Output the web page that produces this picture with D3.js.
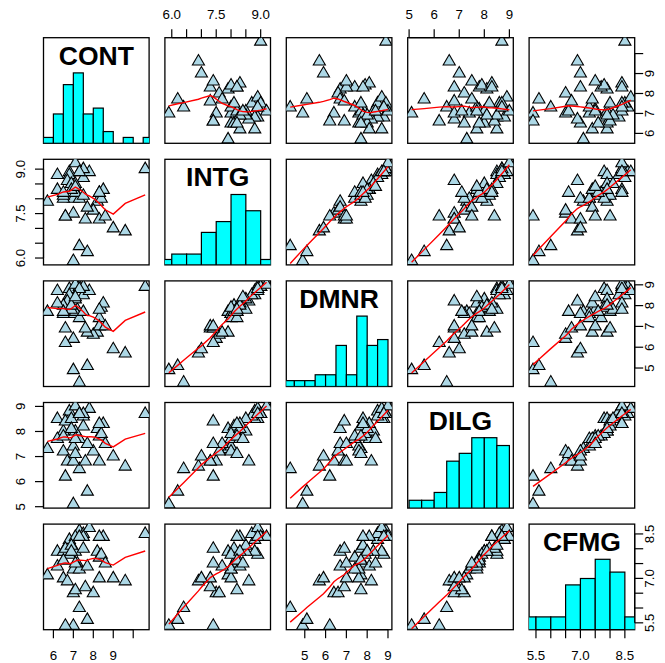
<!DOCTYPE html>
<html>
<head>
<meta charset="utf-8">
<script src="https://cdn.jsdelivr.net/npm/d3@7"></script>
<style>
  body { margin: 0; background: #fff; }
  svg { display: block; }
  text { font-family: "Liberation Sans", Arial, Helvetica, sans-serif; fill: #000; }
</style>
</head>
<body>
<script>
// judge ratings, first five columns
const varNames = ["CONT", "INTG", "DMNR", "DILG", "CFMG"];
const CONT = [5.7, 6.8, 7.2, 6.8, 7.3, 6.2, 10.6, 7.0, 7.3, 8.2, 7.0, 6.5, 6.7, 7.0, 6.5, 7.3, 8.0, 7.7, 8.3, 9.6, 7.1, 7.6,
              6.6, 6.2, 7.5, 7.8, 7.1, 7.5, 7.5, 7.1, 6.6, 8.4, 6.9, 7.3, 7.7, 8.5, 6.9, 6.5, 8.3, 8.3, 9.0, 7.1, 8.6];
const INTG = [7.9, 8.9, 8.1, 8.8, 6.4, 8.8, 9.0, 5.9, 8.9, 7.9, 8.0, 8.0, 8.6, 7.5, 8.1, 8.0, 7.6, 7.7, 8.2, 6.9, 8.2, 7.3,
              7.4, 8.3, 8.7, 8.9, 8.5, 9.0, 8.1, 9.2, 7.4, 8.0, 8.5, 8.9, 6.2, 8.3, 8.3, 8.2, 7.3, 8.2, 7.0, 8.4, 7.4];
const DMNR = [7.7, 8.8, 7.8, 8.5, 4.3, 8.7, 8.9, 4.9, 8.9, 6.7, 7.6, 7.6, 8.2, 6.4, 8.0, 7.4, 6.6, 6.7, 7.4, 5.7, 7.7, 6.9,
              6.2, 8.1, 8.5, 8.7, 8.3, 8.9, 7.7, 9.0, 6.9, 7.9, 7.8, 8.8, 5.1, 8.1, 8.0, 7.7, 7.0, 7.8, 5.9, 8.4, 7.0];
const DILG = [7.3, 8.5, 7.8, 8.8, 6.5, 8.5, 8.7, 5.1, 8.7, 8.1, 7.4, 7.2, 6.8, 6.8, 8.0, 7.7, 7.2, 7.5, 7.8, 6.6, 7.1, 6.8,
              6.2, 7.7, 8.6, 8.9, 8.0, 8.7, 8.2, 9.0, 8.4, 7.9, 8.5, 8.7, 5.6, 8.3, 8.1, 7.8, 6.8, 8.3, 7.0, 7.7, 7.5];
const CFMG = [7.1, 7.8, 7.5, 8.3, 6.0, 7.9, 8.5, 5.4, 8.6, 7.9, 7.3, 7.0, 6.9, 6.5, 7.9, 7.3, 6.5, 7.4, 7.7, 6.9, 6.6, 6.7,
              5.4, 7.4, 8.5, 8.7, 7.9, 8.4, 8.0, 8.4, 8.0, 7.8, 8.1, 8.4, 5.6, 8.4, 7.9, 7.6, 7.0, 8.4, 7.0, 7.5, 7.5];

// histogram bins on the diagonal
const breaksCONT = [5.5, 6.0, 6.5, 7.0, 7.5, 8.0, 8.5, 9.0, 9.5, 10.0, 10.5, 11.0];
const countsCONT = [1, 5, 10, 12, 5, 6, 2, 0, 1, 0, 1];
const breaksINTG = [5.5, 6.0, 6.5, 7.0, 7.5, 8.0, 8.5, 9.0, 9.5];
const countsINTG = [1, 2, 2, 6, 8, 13, 10, 1];
const breaksDMNR = [4.0, 4.5, 5.0, 5.5, 6.0, 6.5, 7.0, 7.5, 8.0, 8.5, 9.0];
const countsDMNR = [1, 1, 1, 2, 2, 7, 2, 12, 7, 8];
const breaksDILG = [5.0, 5.5, 6.0, 6.5, 7.0, 7.5, 8.0, 8.5, 9.0];
const countsDILG = [1, 1, 2, 6, 7, 9, 9, 8];
const breaksCFMG = [5.0, 5.5, 6.0, 6.5, 7.0, 7.5, 8.0, 8.5, 9.0];
const countsCFMG = [2, 2, 2, 7, 8, 11, 9, 2];

// axis ticks and their labels (blank = tick without label)
const ticksCONT = [6, 7, 8, 9, 10];
const tickLabelsCONT = ["6", "7", "8", "9", ""];
const ticksINTG = [6.0, 6.5, 7.0, 7.5, 8.0, 8.5, 9.0];
const tickLabelsINTG = ["6.0", "", "", "7.5", "", "", "9.0"];
const ticksDMNR = [5, 6, 7, 8, 9];
const tickLabelsDMNR = ["5", "6", "7", "8", "9"];
const ticksDILG = [5, 6, 7, 8, 9];
const tickLabelsDILG = ["5", "6", "7", "8", "9"];
const ticksCFMG = [5.5, 6.0, 6.5, 7.0, 7.5, 8.0, 8.5];
const tickLabelsCFMG = ["5.5", "", "", "7.0", "", "", "8.5"];

const columns = [CONT, INTG, DMNR, DILG, CFMG];
const breaks = [breaksCONT, breaksINTG, breaksDMNR, breaksDILG, breaksCFMG];
const counts = [countsCONT, countsINTG, countsDMNR, countsDILG, countsCFMG];
const ticks = [ticksCONT, ticksINTG, ticksDMNR, ticksDILG, ticksCFMG];
const tickLabels = [tickLabelsCONT, tickLabelsINTG, tickLabelsDMNR, tickLabelsDILG, tickLabelsCFMG];

// layout
const width = 665, height = 663;
const left0 = 43.5, top0 = 37.7,
      stepX = 121.4, stepY = 121.6,
      size = 105.6,
      tickLen = 8.5;
const nv = varNames.length;

// R style lowess (f = 2/3, 3 robustness iterations)
function lowess(xIn, yIn, f = 2 / 3, nsteps = 3) {
  const n = xIn.length;
  const order = d3.range(n).sort((a, b) => (xIn[a] - xIn[b]) || (a - b));
  const x = order.map(i => xIn[i]), y = order.map(i => yIn[i]);
  const delta = 0.01 * (x[n - 1] - x[0]);
  const ns = Math.max(2, Math.min(n, Math.floor(f * n + 1e-7)));
  const ys = new Array(n).fill(0), rw = new Array(n).fill(0),
        w = new Array(n).fill(0), res = new Array(n).fill(0);

  function lowest(xs, nleft, nright, userw) {
    const range = x[n - 1] - x[0];
    const h = Math.max(xs - x[nleft], x[nright] - xs);
    const h9 = 0.999 * h, h1 = 0.001 * h;
    let a = 0, j = nleft;
    while (j < n) {
      w[j] = 0;
      const r = Math.abs(x[j] - xs);
      if (r <= h9) {
        w[j] = r <= h1 ? 1 : Math.pow(1 - Math.pow(r / h, 3), 3);
        if (userw) w[j] *= rw[j];
        a += w[j];
      } else if (x[j] > xs) break;
      j++;
    }
    const nrt = j - 1;
    if (a <= 0) return null;
    for (j = nleft; j <= nrt; j++) w[j] /= a;
    if (h > 0) {
      a = 0;
      for (j = nleft; j <= nrt; j++) a += w[j] * x[j];
      let b = xs - a, c = 0;
      for (j = nleft; j <= nrt; j++) c += w[j] * (x[j] - a) * (x[j] - a);
      if (Math.sqrt(c) > 0.001 * range) {
        b /= c;
        for (j = nleft; j <= nrt; j++) w[j] *= (b * (x[j] - a) + 1);
      }
    }
    let s = 0;
    for (j = nleft; j <= nrt; j++) s += w[j] * y[j];
    return s;
  }

  for (let iter = 1; iter <= nsteps + 1; iter++) {
    let nleft = 0, nright = ns - 1, last = -1, i = 0;
    for (;;) {
      if (nright < n - 1) {
        const d1 = x[i] - x[nleft], d2 = x[nright + 1] - x[i];
        if (d1 > d2) { nleft++; nright++; continue; }
      }
      const fit = lowest(x[i], nleft, nright, iter > 1);
      ys[i] = fit === null ? y[i] : fit;
      if (last < i - 1) {
        const denom = x[i] - x[last];
        for (let j = last + 1; j < i; j++) {
          const alpha = (x[j] - x[last]) / denom;
          ys[j] = alpha * ys[i] + (1 - alpha) * ys[last];
        }
      }
      last = i;
      const cut = x[last] + delta;
      for (i = last + 1; i < n; i++) {
        if (x[i] > cut) break;
        if (x[i] === x[last]) { ys[i] = ys[last]; last = i; }
      }
      i = Math.max(last + 1, i - 1);
      if (last >= n - 1) break;
    }
    for (let k = 0; k < n; k++) res[k] = y[k] - ys[k];
    const sc = d3.mean(res, r => Math.abs(r));
    if (iter > nsteps) break;
    const sorted = res.map(Math.abs).sort((a, b) => a - b);
    const m1 = Math.floor(n / 2);
    const cmad = n % 2 === 0 ? 3 * (sorted[m1] + sorted[n - m1 - 1]) : 6 * sorted[m1];
    if (cmad < 1e-7 * sc) break;
    const c9 = 0.999 * cmad, c1 = 0.001 * cmad;
    for (let k = 0; k < n; k++) {
      const r = Math.abs(res[k]);
      rw[k] = r <= c1 ? 1 : (r <= c9 ? Math.pow(1 - Math.pow(r / cmad, 2), 2) : 0);
    }
  }
  return x.map((xv, k) => [xv, ys[k]]);
}

// scales with 4% padding, like base graphics
const xScales = columns.map(col => {
  const [lo, hi] = d3.extent(col), pad = 0.04 * (hi - lo);
  return d3.scaleLinear().domain([lo - pad, hi + pad]).range([0, size]);
});
const yScales = columns.map(col => {
  const [lo, hi] = d3.extent(col), pad = 0.04 * (hi - lo);
  return d3.scaleLinear().domain([lo - pad, hi + pad]).range([size, 0]);
});
const histY = d3.scaleLinear().domain([0, 1.5]).range([size, 0]);

const svg = d3.select('body')
              .append('svg')
              .attr('width', width)
              .attr('height', height);

svg.append('defs')
   .append('clipPath')
   .attr('id', 'panel-clip')
   .append('rect')
   .attr('width', size)
   .attr('height', size);

// triangle (pch 24, cex 1.5)
const triR = 7.0, triHalf = 6.06, triDown = 3.5;
const triPath = `M0,${-triR}L${triHalf},${triDown}L${-triHalf},${triDown}Z`;

for (let i = 0; i < nv; i++) {
  for (let j = 0; j < nv; j++) {
    const g = svg.append('g')
                 .attr('transform', `translate(${left0 + j * stepX}, ${top0 + i * stepY})`);

    g.append('rect') // box
      .attr('width', size)
      .attr('height', size)
      .attr('fill', 'none')
      .attr('stroke', '#000')
      .attr('stroke-width', 1.3);

    const inner = g.append('g').attr('clip-path', 'url(#panel-clip)');

    if (i === j) {
      const x = xScales[j];
      const maxCount = d3.max(counts[j]);
      const bins = counts[j].map((c, k) => ({ x0: breaks[j][k], x1: breaks[j][k + 1], c }));
      inner.selectAll('rect')
        .data(bins)
        .enter()
          .append('rect')
          .attr('x', d => x(d.x0))
          .attr('y', d => histY(d.c / maxCount))
          .attr('width', d => x(d.x1) - x(d.x0))
          .attr('height', d => size - histY(d.c / maxCount))
          .attr('fill', '#00FFFF')
          .attr('stroke', '#000')
          .attr('stroke-width', 1.2);

      g.append('text')
        .attr('x', size / 2)
        .attr('y', size / 6)
        .attr('dy', '0.36em')
        .attr('text-anchor', 'middle')
        .style('font-size', '26.5px')
        .style('font-weight', 'bold')
        .text(varNames[j]);
    } else {
      const x = xScales[j], y = yScales[i];
      const pts = columns[j].map((v, k) => [v, columns[i][k]]);
      inner.selectAll('path.pt')
        .data(pts)
        .enter()
          .append('path')
          .attr('class', 'pt')
          .attr('d', triPath)
          .attr('transform', d => `translate(${x(d[0])}, ${y(d[1])})`)
          .attr('fill', '#ADD8E6')
          .attr('stroke', '#000')
          .attr('stroke-width', 1.1);

      const smooth = lowess(columns[j], columns[i]);
      inner.append('path')
        .datum(smooth)
        .attr('d', d3.line().x(d => x(d[0])).y(d => y(d[1])))
        .attr('fill', 'none')
        .attr('stroke', '#FF0000')
        .attr('stroke-width', 1.4);
    }

    // axes on alternating sides
    if (i === 0 && j % 2 === 1) drawAxis(g, 'top', j);
    if (i === nv - 1 && j % 2 === 0) drawAxis(g, 'bottom', j);
    if (j === 0 && i % 2 === 1) drawAxis(g, 'left', i);
    if (j === nv - 1 && i % 2 === 0) drawAxis(g, 'right', i);
  }
}

function drawAxis(g, side, v) {
  const horiz = side === 'top' || side === 'bottom';
  const s = horiz ? xScales[v] : yScales[v];
  const tv = ticks[v];
  const ax = g.append('g').attr('class', 'axis-' + side);
  const base = (side === 'top' || side === 'left') ? 0 : size;
  const dir = (side === 'top' || side === 'left') ? -1 : 1;

  // axis line spans first to last tick
  if (horiz) {
    ax.append('line')
      .attr('x1', s(tv[0])).attr('x2', s(tv[tv.length - 1]))
      .attr('y1', base).attr('y2', base);
  } else {
    ax.append('line')
      .attr('y1', s(tv[0])).attr('y2', s(tv[tv.length - 1]))
      .attr('x1', base).attr('x2', base);
  }
  ax.selectAll('line.tick')
    .data(tv)
    .enter()
      .append('line')
      .attr('class', 'tick')
      .attr('x1', d => horiz ? s(d) : base)
      .attr('x2', d => horiz ? s(d) : base + dir * tickLen)
      .attr('y1', d => horiz ? base : s(d))
      .attr('y2', d => horiz ? base + dir * tickLen : s(d));
  ax.selectAll('line')
    .attr('stroke', '#000')
    .attr('stroke-width', 1.2);

  const labels = tv.map((d, k) => ({ d, t: tickLabels[v][k] })).filter(o => o.t !== '');
  const txt = ax.selectAll('text')
    .data(labels)
    .enter()
      .append('text')
      .attr('text-anchor', 'middle')
      .style('font-size', '13.3px')
      .text(o => o.t);

  if (side === 'top') {
    txt.attr('x', o => s(o.d)).attr('y', -18.4);
  } else if (side === 'bottom') {
    txt.attr('x', o => s(o.d)).attr('y', size + 30);
  } else if (side === 'left') {
    txt.attr('transform', o => `translate(${-18.5}, ${s(o.d)}) rotate(-90)`);
  } else {
    txt.attr('transform', o => `translate(${size + 19.5}, ${s(o.d)}) rotate(-90)`);
  }
}
</script>
</body>
</html>
